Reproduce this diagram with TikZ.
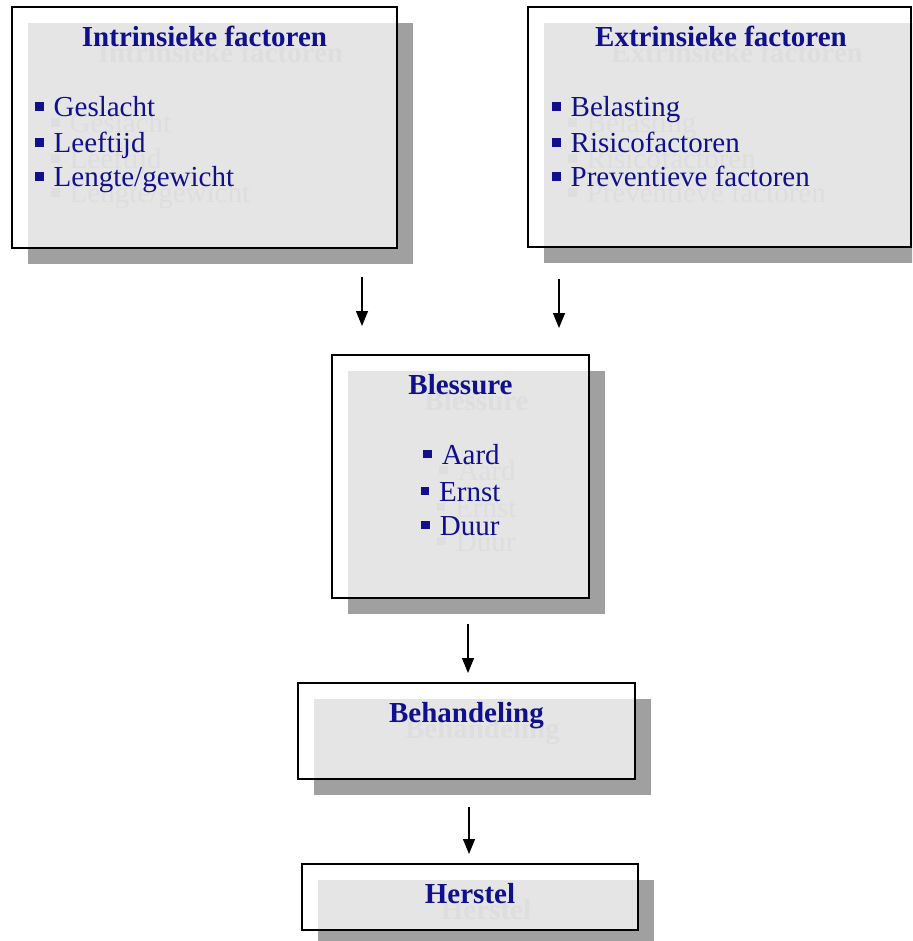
\documentclass[tikz,border=0pt]{standalone}
\usepackage{fontspec}
\setmainfont{Liberation Serif}
\usetikzlibrary{arrows.meta,calc}
\definecolor{navy}{RGB}{16,16,140}
\definecolor{shadowgray}{RGB}{160,160,160}
\definecolor{ghostgray}{RGB}{222,222,222}
\newcommand\bul{\rule[6pt]{8.5pt}{8.5pt}\hspace{10pt}}
\newcommand\pairnode[4]{%
  \node[#2, text=ghostgray] (#1g) at ($(#3)+(16,16)$) {#4};
  \node[#2] (#1) at (#3) {#4};}
\begin{document}
\begin{tikzpicture}[x=1pt,y=-1pt,
  shadowbox/.style={fill=shadowgray, draw=none, inner sep=0pt},
  frame/.style={draw=black, line width=1.8pt, fill=white, fill opacity=0.73, inner sep=0pt},
  ttl/.style={font=\fontsize{29}{35}\selectfont\bfseries, text=navy, inner sep=0pt, anchor=base},
  itm/.style={font=\fontsize{29}{35}\selectfont, text=navy, inner sep=0pt, anchor=base west},
  itmc/.style={font=\fontsize{29}{35}\selectfont, text=navy, inner sep=0pt, anchor=base},
  arr/.style={-{Triangle[width=12pt,length=15pt]}, line width=1.3pt}]
\clip (0,0) rectangle (912,941);
\useasboundingbox (0,0) rectangle (912,941);
% shadows
\node[shadowbox, minimum width=385pt, minimum height=241pt] (s1) at (220.5,143.5) {};
\node[shadowbox, minimum width=383pt, minimum height=240pt] (s2) at (735.5,143) {};
\node[shadowbox, minimum width=257pt, minimum height=243pt] (s3) at (476.5,492.5) {};
\node[shadowbox, minimum width=337pt, minimum height=96pt] (s4) at (482.5,747) {};
\node[shadowbox, minimum width=336pt, minimum height=66pt] (s5) at (486,913) {};
% frames
\node[frame, minimum width=385pt, minimum height=241pt] (b1) at (204.5,127.5) {};
\node[frame, minimum width=383pt, minimum height=240pt] (b2) at (719.5,127) {};
\node[frame, minimum width=257pt, minimum height=243pt] (b3) at (460.5,476.5) {};
\node[frame, minimum width=337pt, minimum height=96pt] (b4) at (466.5,731) {};
\node[frame, minimum width=336pt, minimum height=66pt] (b5) at (470,897) {};
% texts
\pairnode{t1}{ttl}{204.5,47}{Intrinsieke factoren}
\pairnode{i11}{itm}{35,117}{\bul Geslacht}
\pairnode{i12}{itm}{35,153}{\bul Leeftijd}
\pairnode{i13}{itm}{35,187}{\bul Lengte/gewicht}
\pairnode{t2}{ttl}{721,47}{Extrinsieke factoren}
\pairnode{i21}{itm}{552,117}{\bul Belasting}
\pairnode{i22}{itm}{552,153}{\bul Risicofactoren}
\pairnode{i23}{itm}{552,187}{\bul Preventieve factoren}
\pairnode{t3}{ttl}{460.5,394}{Blessure}
\pairnode{i31}{itmc}{461.5,464}{\bul Aard}
\pairnode{i32}{itmc}{460.5,501}{\bul Ernst}
\pairnode{i33}{itmc}{460.5,535}{\bul Duur}
\pairnode{t4}{ttl}{466.5,722}{Behandeling}
\pairnode{t5}{ttl}{470,903}{Herstel}
% arrows
\coordinate (a1s) at (362,277); \coordinate (a1e) at (362,326);
\coordinate (a2s) at (559,279); \coordinate (a2e) at (559,328);
\coordinate (a3s) at (468,624); \coordinate (a3e) at (468,673);
\coordinate (a4s) at (469,807); \coordinate (a4e) at (469,854);
\draw[arr] (a1s) -- (a1e);
\draw[arr] (a2s) -- (a2e);
\draw[arr] (a3s) -- (a3e);
\draw[arr] (a4s) -- (a4e);
\end{tikzpicture}
\end{document}
